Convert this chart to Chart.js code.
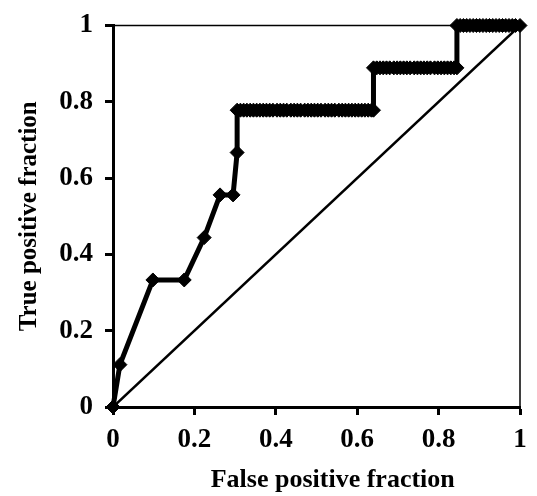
<!DOCTYPE html>
<html>
<head>
<meta charset="utf-8">
<script src="https://cdn.jsdelivr.net/npm/chart.js@4/dist/chart.umd.min.js"></script>
<style>
  html, body { margin: 0; padding: 0; background: #fff; }
  #wrap { width: 537px; height: 496px; }
</style>
</head>
<body>
<div id="wrap"><canvas id="roc"></canvas></div>
<script>
// rising part of the curve
var rampFpr = [0, 0.017, 0.098, 0.175, 0.224, 0.263, 0.295, 0.305];
var rampTpr = [0, 0.111, 0.333, 0.333, 0.444, 0.556, 0.556, 0.667];

// flat runs of the curve, one array per true positive level
var levelTpr = [0.778, 0.889, 1.0];
var fprAt778 = [0.305, 0.313, 0.321, 0.329, 0.337, 0.345, 0.353, 0.361, 0.369, 0.377,
                0.385, 0.393, 0.403, 0.411, 0.419, 0.427, 0.437, 0.445, 0.453, 0.461,
                0.471, 0.479, 0.487, 0.495, 0.503, 0.511, 0.521, 0.529, 0.537, 0.545,
                0.555, 0.563, 0.571, 0.579, 0.587, 0.595, 0.603, 0.611, 0.619, 0.627,
                0.635, 0.640];
var fprAt889 = [0.640, 0.648, 0.656, 0.664, 0.672, 0.680, 0.690, 0.698, 0.706, 0.714,
                0.722, 0.730, 0.740, 0.748, 0.756, 0.764, 0.772, 0.780, 0.790, 0.798,
                0.806, 0.814, 0.822, 0.830, 0.838, 0.845];
var fprAt100 = [0.845, 0.853, 0.861, 0.869, 0.877, 0.885, 0.893, 0.901, 0.909, 0.917,
                0.925, 0.933, 0.941, 0.949, 0.957, 0.965, 0.973, 0.981, 0.989, 1.0];

// chance line
var chanceFpr = [0, 1];
var chanceTpr = [0, 1];

var axisMin = 0, axisMax = 1, axisStep = 0.2;

var rocPoints = [];
rampFpr.forEach(function (x, i) { rocPoints.push({ x: x, y: rampTpr[i] }); });
[fprAt778, fprAt889, fprAt100].forEach(function (run, k) {
    run.forEach(function (x) { rocPoints.push({ x: x, y: levelTpr[k] }); });
});
var chancePoints = chanceFpr.map(function (x, i) { return { x: x, y: chanceTpr[i] }; });

var serif = "'Liberation Serif', 'Times New Roman', serif";

function fmt(v) { return String(Number(v.toFixed(2))); }

// thin line along the top and right of the plot
var framePlugin = {
    id: 'frame',
    beforeDatasetsDraw: function (chart) {
        var a = chart.chartArea, ctx = chart.ctx;
        ctx.save();
        ctx.strokeStyle = '#000';
        ctx.lineWidth = 1.5;
        ctx.beginPath();
        ctx.moveTo(a.left, a.top);
        ctx.lineTo(a.right, a.top);
        ctx.lineTo(a.right, a.bottom);
        ctx.stroke();
        ctx.restore();
    }
};

var ctx = document.getElementById('roc').getContext('2d');
var chart = new Chart(ctx, {
    type: 'scatter',
    data: {
        datasets: [{
            data: rocPoints,
            showLine: true,
            borderColor: '#000',
            backgroundColor: '#000',
            borderWidth: 5,
            pointStyle: 'rectRot',
            pointRadius: 7,
            pointHoverRadius: 7,
            pointBorderWidth: 1,
            clip: false,
            order: 0
        }, {
            data: chancePoints,
            showLine: true,
            borderColor: '#000',
            borderWidth: 2.5,
            pointRadius: 0,
            order: 1
        }]
    },
    options: {
        responsive: true,
        maintainAspectRatio: false,
        animation: false,
        layout: { padding: { left: 0, right: 17, top: 5, bottom: 0 } },
        plugins: {
            legend: { display: false },
            tooltip: { enabled: false }
        },
        scales: {
            x: {
                type: 'linear',
                min: axisMin,
                max: axisMax,
                afterFit: function (s) { s.height = 89; },
                border: { display: true, color: '#000', width: 3 },
                grid: { display: true, drawOnChartArea: false, drawTicks: true, tickLength: 8, tickWidth: 3, tickColor: '#000' },
                ticks: { stepSize: axisStep, color: '#000', font: { family: serif, size: 27, weight: 'bold' }, padding: 9, maxRotation: 0, callback: fmt },
                title: {
                    display: true,
                    text: '     False positive fraction',
                    color: '#000',
                    font: { family: serif, size: 26, weight: 'bold' },
                    padding: { top: 8, bottom: 0 }
                }
            },
            y: {
                type: 'linear',
                min: axisMin,
                max: axisMax,
                afterFit: function (s) { s.width = 113; },
                border: { display: true, color: '#000', width: 3 },
                grid: { display: true, drawOnChartArea: false, drawTicks: true, tickLength: 8, tickWidth: 3, tickColor: '#000' },
                ticks: { stepSize: axisStep, color: '#000', font: { family: serif, size: 27, weight: 'bold', lineHeight: 1.0 }, padding: 12, callback: fmt },
                title: {
                    display: true,
                    text: 'True positive fraction',
                    color: '#000',
                    font: { family: serif, size: 25, weight: 'bold' },
                    padding: { top: 15, bottom: 17 }
                }
            }
        }
    },
    plugins: [framePlugin]
});
</script>
</body>
</html>
